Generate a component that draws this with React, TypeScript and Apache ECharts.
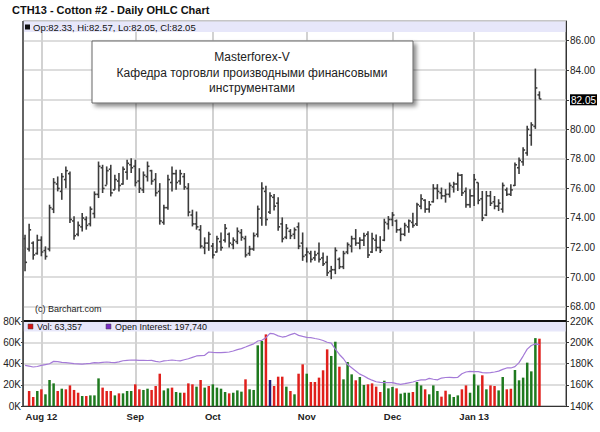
import React, { useEffect, useRef } from "react";
import * as echarts from "echarts";

// ---- categories (trading days) ----
const monthNames = ["Jul", "Aug", "Sep", "Oct", "Nov", "Dec", "Jan"];
const monthDays = [
  [26, 27, 30, 31],
  [1, 2, 3, 6, 7, 8, 9, 10, 13, 14, 15, 16, 17, 20, 21, 22, 23, 24, 27, 28, 29, 30, 31],
  [4, 5, 6, 7, 10, 11, 12, 13, 14, 17, 18, 19, 20, 21, 24, 25, 26, 27, 28],
  [1, 2, 3, 4, 5, 8, 9, 10, 11, 12, 15, 16, 17, 18, 19, 22, 23, 24, 25, 26, 29, 30, 31],
  [1, 2, 5, 6, 7, 8, 9, 12, 13, 14, 15, 16, 19, 20, 21, 23, 26, 27, 28, 29, 30],
  [3, 4, 5, 6, 7, 10, 11, 12, 13, 14, 17, 18, 19, 20, 21, 24, 26, 27, 28, 31],
  [2, 3, 4, 7, 8, 9, 10, 11, 14, 15, 16, 17, 18, 22, 23, 24, 25],
];
const monthTicks = ["Aug 1", "Sep 4", "Oct 1", "Nov 1", "Dec 3", "Jan 2"];
const monthTickLabels = ["Aug 12", "Sep", "Oct", "Nov", "Dec", "Jan 13"];

// ---- price series ----
const opens = [
  72.6, 71.9, 72.3, 71.6, 72.5, 71.8, 71.9, 74.6, 76.3, 75.8,
  76.6, 77.0, 73.8, 72.9, 73.4, 73.9, 73.6, 74.3, 75.6, 77.4,
  76.2, 77.3, 75.9, 76.5, 76.3, 77.1, 77.6, 77.5, 76.5, 75.9,
  76.8, 77.2, 76.6, 75.8, 73.7, 74.7, 76.4, 77.0, 76.5, 76.8,
  76.0, 74.2, 73.6, 73.2, 72.0, 72.3, 72.1, 71.7, 72.4, 72.5,
  72.9, 72.2, 72.4, 73.0, 72.6, 71.6, 71.9, 72.9, 74.0, 75.8,
  74.4, 75.4, 75.0, 73.6, 72.7, 73.1, 72.9, 73.4, 72.3, 71.5,
  71.6, 71.3, 71.6, 71.3, 71.0, 70.4, 70.5, 71.2, 70.7, 71.7,
  72.1, 72.6, 72.3, 72.5, 72.9, 71.7, 72.5, 72.0, 72.5, 73.6,
  73.9, 73.8, 73.2, 72.9, 73.4, 73.7, 73.6, 74.8, 75.2, 74.6,
  75.1, 76.0, 75.7, 75.5, 75.6, 76.1, 76.3, 76.9, 75.8, 74.9,
  75.5, 76.4, 75.3, 74.2, 75.5, 75.1, 74.8, 74.6, 75.9, 75.6,
  76.2, 77.4, 77.8, 78.4, 79.6, 80.2, 82.33,
];
const highs = [
  72.87, 73.61, 72.42, 72.87, 72.76, 72.08, 74.9, 76.7, 76.81, 77.04,
  77.49, 77.15, 74.11, 73.77, 74.33, 74.11, 74.78, 75.8, 77.82, 77.6,
  77.49, 77.6, 76.92, 77.04, 77.49, 77.94, 78.05, 77.94, 77.37, 77.15,
  77.82, 77.26, 77.04, 76.36, 74.9, 76.92, 77.49, 77.26, 77.26, 77.04,
  76.36, 74.56, 74.44, 73.52, 72.69, 73.07, 72.3, 72.8, 73.02, 73.59,
  73.02, 72.69, 73.36, 73.25, 72.8, 72.12, 73.02, 74.84, 76.42, 76.19,
  75.74, 75.63, 75.4, 74.04, 73.59, 73.25, 73.36, 73.7, 73.02, 72.01,
  71.78, 71.78, 72.35, 71.67, 71.44, 70.76, 72.01, 71.33, 71.78, 72.35,
  72.8, 73.25, 72.69, 73.0, 73.11, 73.0, 72.88, 72.77, 73.95, 74.13,
  74.4, 73.9, 73.34, 73.68, 73.9, 74.36, 75.04, 75.61, 75.27, 75.15,
  76.29, 76.29, 76.06, 75.95, 76.4, 76.45, 77.08, 76.97, 76.06, 75.95,
  76.97, 76.4, 75.83, 75.83, 75.83, 75.49, 75.27, 76.4, 76.06, 76.29,
  77.76, 78.1, 78.78, 80.25, 80.48, 84.11, 82.57,
];
const lows = [
  70.39, 71.74, 71.18, 71.52, 71.41, 71.18, 71.74, 74.33, 75.8, 75.23,
  76.02, 73.66, 72.53, 72.76, 73.09, 73.21, 73.43, 73.99, 75.35, 75.69,
  76.25, 75.46, 75.91, 75.8, 76.25, 76.59, 77.04, 76.14, 75.69, 75.69,
  76.47, 76.25, 75.46, 73.55, 73.55, 74.56, 75.8, 75.91, 76.25, 75.91,
  74.11, 73.43, 73.21, 71.94, 71.55, 71.78, 71.26, 71.67, 71.78, 72.35,
  72.01, 71.89, 72.23, 72.46, 71.33, 71.44, 71.78, 72.69, 73.48, 73.48,
  74.27, 74.5, 73.14, 72.35, 72.57, 72.57, 72.57, 71.89, 71.1, 70.99,
  70.99, 71.1, 70.99, 70.76, 70.08, 69.86, 70.2, 70.54, 70.54, 71.55,
  71.67, 72.12, 71.89, 72.1, 71.3, 71.63, 71.75, 71.63, 72.43, 73.22,
  73.45, 73.0, 72.43, 72.77, 73.0, 73.34, 73.45, 74.59, 74.36, 74.36,
  75.04, 75.27, 75.27, 75.04, 75.38, 75.72, 75.83, 75.49, 74.7, 74.7,
  74.81, 74.93, 73.79, 74.13, 74.81, 74.59, 74.47, 74.36, 75.49, 75.49,
  76.17, 76.97, 77.53, 78.21, 78.89, 80.03, 82.05,
];
const closes = [
  71.0, 73.2, 71.5, 72.5, 71.7, 71.4, 74.7, 76.4, 76.0, 76.8,
  77.2, 73.9, 72.8, 73.5, 74.0, 73.5, 74.6, 75.6, 77.5, 76.0,
  77.2, 75.7, 76.6, 76.2, 77.3, 77.7, 77.4, 76.4, 76.0, 76.9,
  77.5, 76.5, 75.7, 73.8, 74.7, 76.6, 77.0, 76.4, 77.0, 76.1,
  74.4, 73.6, 73.4, 72.1, 72.3, 72.9, 71.5, 72.6, 72.0, 73.3,
  72.3, 72.5, 73.1, 72.7, 71.5, 71.9, 72.8, 74.6, 76.0, 73.9,
  75.5, 74.8, 73.4, 72.6, 73.3, 72.8, 73.2, 72.1, 71.4, 71.7,
  71.2, 71.5, 71.2, 70.9, 70.3, 70.5, 71.8, 70.7, 71.6, 72.2,
  72.6, 72.3, 72.5, 72.8, 71.5, 72.6, 72.0, 71.8, 73.7, 73.9,
  74.2, 73.2, 72.9, 73.5, 73.8, 73.5, 74.9, 75.3, 74.6, 74.9,
  76.0, 75.8, 75.5, 75.6, 76.2, 76.3, 76.9, 75.7, 74.9, 75.5,
  76.6, 75.2, 74.0, 75.5, 75.0, 74.8, 75.0, 76.2, 75.6, 75.9,
  77.6, 77.9, 78.6, 80.0, 80.3, 82.8, 82.05,
];

// ---- volume (thousands) and its colour flags ----
const volume = [
  null, 14.1, 8.5, 14.1, 15.7, 11.0, 24.5, 21.3, 14.1, 16.3,
  15.7, 19.4, 15.1, 12.5, 9.4, 9.4, 10.0, 10.0, 26.0, 17.3,
  14.1, 14.1, 10.0, 11.9, 11.9, 14.1, 14.1, 20.4, 15.7, 15.1,
  16.3, 15.1, 18.8, 30.4, 14.7, 16.6, 17.3, 13.2, 12.5, 12.5,
  21.3, 20.4, 18.2, 24.5, 17.3, 18.8, 20.4, 17.3, 16.3, 13.2,
  11.9, 12.5, 14.7, 13.5, 25.1, 15.7, 15.1, 57.1, 61.2, 67.4,
  24.5, 18.8, 27.6, 27.6, 18.2, 14.1, 11.0, 30.4, 39.2, 30.4,
  22.6, 22.6, 26.7, 33.6, 53.3, 47.1, 60.5, 37.0, 25.1, 41.4,
  29.8, 24.2, 27.3, 19.8, 20.4, 21.3, 18.2, 13.2, 23.8, 16.6,
  17.9, 16.6, 11.6, 12.5, 12.5, 13.2, 22.6, 19.4, 15.7, 11.0,
  19.4, 14.1, 8.8, 14.4, 11.0, 8.5, 10.0, 15.7, 19.4, 12.5,
  29.8, 19.4, 28.9, 15.7, 19.4, 18.8, 14.7, 27.3, 15.7, 16.3,
  33.9, 24.2, 26.7, 40.8, 32.6, 63.9, 63.357,
];
const volumeDir = (
  "-" +
  "rrgrgggrgr" + "rrrgrgggrr" + "rgrgggrrgg" + "rrrggrggrr" + "rgrgrggggr" +
  "gggrggggrb" + "rrrgrgr" + "rgrrrrrggr" + "gggrggrrrr" + "gggrgggrgg" +
  "rgggrrgggr" + "rgggrgrrgg" + "rrggggggr"
).split("");

// ---- open interest (thousands) ----
const openInterest = [
  178.3, 177.5, 176.7, 177.2, 178.2, 179.0, 179.8, 182.0, 181.8, 181.0,
  180.8, 180.4, 179.8, 179.7, 179.5, 179.8, 180.2, 180.8, 180.6, 181.0,
  181.4, 181.0, 180.8, 181.5, 182.6, 183.0, 183.3, 183.2, 183.0, 183.0,
  182.8, 183.0, 182.0, 181.4, 182.4, 182.8, 183.3, 182.8, 182.4, 183.5,
  184.5, 185.8, 187.1, 187.5, 187.7, 190.8, 190.4, 190.2, 190.2, 190.5,
  190.8, 191.8, 193.0, 194.0, 195.5, 197.1, 198.5, 201.2, 201.8, 204.3,
  208.4, 207.8, 206.0, 204.9, 205.6, 207.2, 208.4, 206.5, 205.5, 204.6,
  204.3, 203.5, 202.8, 201.6, 200.0, 199.2, 193.5, 188.5, 184.5, 179.0,
  176.0, 173.0, 170.0, 168.2, 166.0, 164.3, 162.8, 162.2, 162.0, 162.0,
  162.0, 161.0, 160.4, 161.0, 161.8, 162.6, 163.8, 164.6, 164.5, 166.0,
  165.2, 164.6, 166.3, 166.8, 167.0, 166.7, 167.0, 170.4, 172.0, 172.6,
  172.4, 172.3, 171.4, 171.2, 171.4, 172.0, 172.8, 174.5, 175.8, 175.8,
  177.0, 180.8, 187.0, 193.5, 197.0, 198.5, 197.74,
];

const FONT = '"Liberation Sans", Arial, Helvetica, sans-serif';
const dirColor: Record<string, string> = { g: "#1f7a1f", r: "#e0201c", b: "#1b1b78" };
const GRID_COLOR = "#d2d2d2";

export default function App() {
  const ref = useRef<HTMLDivElement>(null);

  useEffect(() => {
    if (!ref.current) return;
    const chart = echarts.init(ref.current, null, { renderer: "svg" });

    const categories = monthNames.flatMap((m, k) => monthDays[k].map((d) => `${m} ${d}`));
    const axisCats = [...categories, "pad0", "pad1", "pad2", "pad3", "pad4", "pad5"];
    const tickLabelOf: Record<string, string> = {};
    monthTicks.forEach((t, k) => (tickLabelOf[t] = monthTickLabels[k]));
    const isMonthTick = (_i: number, v: string) => monthTicks.includes(v);

    const n = categories.length;
    const last = n - 1;
    const ohlc = categories.map((_, i) => [i, opens[i], highs[i], lows[i], closes[i]]);
    const volData = volume.map((v, i) =>
      v == null ? null : { value: v, itemStyle: { color: dirColor[volumeDir[i]] } }
    );
    // vertical month gridlines: long inside ticks aligned with the month labels
    const gridTick = (len: number) => ({
      show: true, inside: true, length: len, alignWithLabel: true, interval: isMonthTick,
      lineStyle: { color: GRID_COLOR, width: 2 },
    });

    const headerText =
      `Op:${opens[last].toFixed(2)}, Hi:${highs[last].toFixed(2)}, ` +
      `Lo:${lows[last].toFixed(2)}, Cl:${closes[last].toFixed(2)}`;
    const volText = `Vol: ${Math.round((volume[last] as number) * 1000).toLocaleString("en-US")}`;
    const oiText = `Open Interest: ${Math.round(openInterest[last] * 1000).toLocaleString("en-US")}`;

    const option: any = {
      animation: false,
      textStyle: { fontFamily: FONT },
      grid: [
        { left: 23, right: 34, top: 21, height: 300, show: true, borderColor: "#444", borderWidth: 1 },
        { left: 23, right: 34, top: 321, height: 85, show: true, borderColor: "#444", borderWidth: 1 },
      ],
      xAxis: [
        {
          type: "category", gridIndex: 0, data: axisCats, boundaryGap: true,
          axisLine: { show: true, lineStyle: { color: "#111" } },
          axisTick: gridTick(299),
          axisLabel: { show: true, interval: isMonthTick, formatter: () => "" },
          splitLine: { show: false },
        },
        {
          type: "category", gridIndex: 1, data: axisCats, boundaryGap: true,
          axisLine: { show: true, lineStyle: { color: "#333" } },
          axisTick: gridTick(84),
          axisLabel: {
            interval: isMonthTick,
            formatter: (v: string) => tickLabelOf[v] || "",
            fontFamily: FONT, fontWeight: "bold", fontSize: 9.5, color: "#222", margin: 5,
          },
          splitLine: { show: false },
        },
      ],
      yAxis: [
        {
          type: "value", gridIndex: 0, position: "right",
          min: 67.03, max: 87.33, splitNumber: 10, minInterval: 2, maxInterval: 2,
          axisLine: { show: true, lineStyle: { color: "#333" } },
          axisTick: { show: true, length: 3, lineStyle: { color: "#333" } },
          axisLabel: {
            showMinLabel: false, showMaxLabel: false,
            fontFamily: FONT, fontSize: 10, color: "#222", margin: 4,
            formatter: (v: number) =>
              Math.abs(v - 82) < 1e-6 ? `{hl|${closes[last].toFixed(2)}}` : v.toFixed(2),
            rich: {
              hl: { backgroundColor: "#000", color: "#fff", fontSize: 10, fontFamily: FONT, padding: [1, 1, 0, 1] },
            },
          },
          splitLine: { show: true, lineStyle: { color: GRID_COLOR, width: 1.5 } },
        },
        {
          type: "value", gridIndex: 1, position: "left", min: 0, max: 80, interval: 20,
          axisLine: { show: true, lineStyle: { color: "#333" } },
          axisTick: { show: true, length: 2, lineStyle: { color: "#333" } },
          axisLabel: { formatter: (v: number) => `${v}K`, fontFamily: FONT, fontSize: 10, color: "#222", margin: 2 },
          splitLine: { show: true, lineStyle: { color: GRID_COLOR, width: 1.5 } },
        },
        {
          type: "value", gridIndex: 1, position: "right", min: 140, max: 220, interval: 20,
          axisLine: { show: true, lineStyle: { color: "#333" } },
          axisTick: { show: true, length: 3, lineStyle: { color: "#333" } },
          axisLabel: { formatter: (v: number) => `${v}K`, fontFamily: FONT, fontSize: 10, color: "#222", margin: 4 },
          splitLine: { show: false },
        },
      ],
      series: [
        {
          type: "custom", xAxisIndex: 0, yAxisIndex: 0, z: 3, data: ohlc,
          encode: { x: 0, y: [1, 2, 3, 4] },
          renderItem: (_p: any, api: any) => {
            const x = api.value(0);
            const o = api.coord([x, api.value(1)]);
            const h = api.coord([x, api.value(2)]);
            const l = api.coord([x, api.value(3)]);
            const c = api.coord([x, api.value(4)]);
            const style = { stroke: "#3c3c3c", lineWidth: 1.6 };
            return {
              type: "group",
              children: [
                { type: "line", shape: { x1: h[0], y1: h[1], x2: l[0], y2: l[1] }, style },
                { type: "line", shape: { x1: o[0] - 2, y1: o[1], x2: o[0], y2: o[1] }, style },
                { type: "line", shape: { x1: c[0], y1: c[1], x2: c[0] + 2, y2: c[1] }, style },
              ],
            };
          },
        },
        {
          type: "bar", xAxisIndex: 1, yAxisIndex: 1, z: 3, data: volData, barWidth: 2.5,
        },
        {
          type: "line", xAxisIndex: 1, yAxisIndex: 2, z: 4, data: openInterest, symbol: "none",
          lineStyle: { color: "#a57bd8", width: 1.2 },
        },
      ],
      graphic: [
        {
          type: "text", x: 12, y: 10, z: 30,
          style: { text: "CTH13 - Cotton #2 - Daily OHLC Chart", fill: "#111", font: `bold 11px ${FONT}`, verticalAlign: "middle" },
        },
        { type: "rect", z: 20, shape: { x: 23.5, y: 21.5, width: 542, height: 10.5 }, style: { fill: "#e7e7fa" } },
        { type: "rect", z: 21, shape: { x: 25, y: 24.5, width: 5, height: 5 }, style: { fill: "#111" } },
        {
          type: "text", x: 33, y: 27.5, z: 21,
          style: { text: headerText, fill: "#111", font: `9.5px ${FONT}`, verticalAlign: "middle" },
        },
        { type: "rect", z: 20, shape: { x: 23.5, y: 322, width: 542, height: 9.5 }, style: { fill: "#e7e7fa" } },
        { type: "line", z: 22, shape: { x1: 23, y1: 321, x2: 566, y2: 321 }, style: { stroke: "#111", lineWidth: 2 } },
        { type: "line", z: 22, shape: { x1: 23, y1: 21, x2: 23, y2: 406 }, style: { stroke: "#555", lineWidth: 1.6 } },
        { type: "rect", z: 21, shape: { x: 28, y: 324, width: 5, height: 5 }, style: { fill: "#d41414", stroke: "#444", lineWidth: 0.5 } },
        {
          type: "text", x: 37, y: 327, z: 21,
          style: { text: volText, fill: "#111", font: `9px ${FONT}`, verticalAlign: "middle" },
        },
        { type: "rect", z: 21, shape: { x: 106, y: 324, width: 5, height: 5 }, style: { fill: "#7a2ec4", stroke: "#444", lineWidth: 0.5 } },
        {
          type: "text", x: 115, y: 327, z: 21,
          style: { text: oiText, fill: "#111", font: `9px ${FONT}`, verticalAlign: "middle" },
        },
        {
          type: "text", x: 35, y: 309, z: 21,
          style: { text: "(c) Barchart.com", fill: "#222", font: `9px ${FONT}`, verticalAlign: "middle" },
        },
        {
          type: "rect", z: 25, shape: { x: 92, y: 41, width: 321, height: 62 },
          style: {
            fill: "#fff", stroke: "#666", lineWidth: 1,
            shadowBlur: 4, shadowOffsetX: 3, shadowOffsetY: 3, shadowColor: "rgba(0,0,0,0.45)",
          },
        },
        {
          type: "text", x: 252, y: 57, z: 26,
          style: { text: "Masterforex-V", fill: "#222", font: `12px ${FONT}`, align: "center", verticalAlign: "middle" },
        },
        {
          type: "text", x: 252, y: 73, z: 26,
          style: { text: "Кафедра торговли производными финансовыми", fill: "#222", font: `12px ${FONT}`, align: "center", verticalAlign: "middle" },
        },
        {
          type: "text", x: 252, y: 88, z: 26,
          style: { text: "инструментами", fill: "#222", font: `12px ${FONT}`, align: "center", verticalAlign: "middle" },
        },
      ],
    };

    chart.setOption(option);
    return () => chart.dispose();
  }, []);

  return (
    <div
      ref={ref}
      style={{ position: "fixed", left: 0, top: 0, width: 600, height: 432, background: "#fff" }}
    />
  );
}
